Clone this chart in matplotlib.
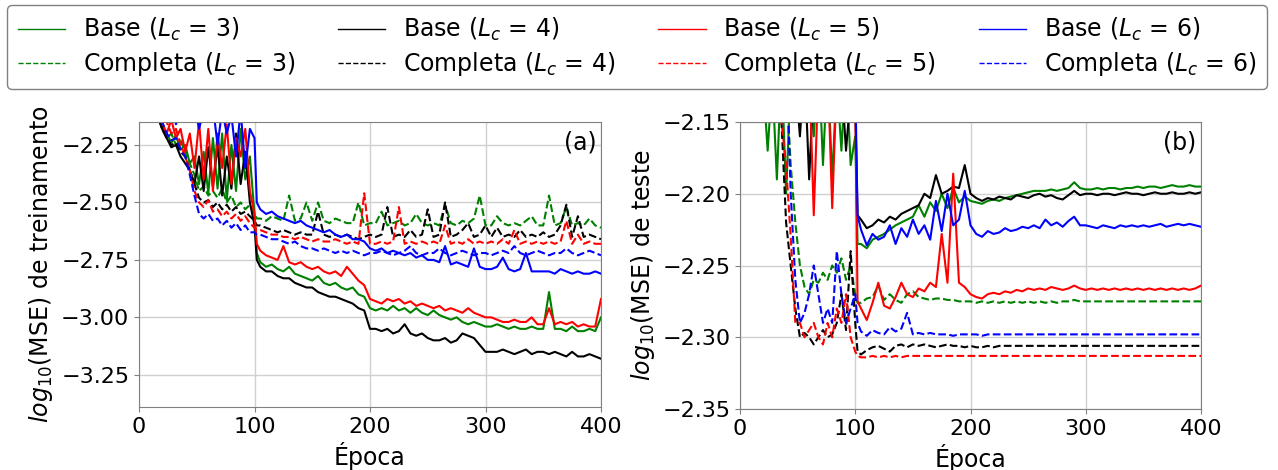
import matplotlib
matplotlib.use("Agg")
import matplotlib.pyplot as plt
from matplotlib.lines import Line2D

# ---------------- data ----------------
epochs = list(range(0, 101, 4)) + [102] + list(range(105, 401, 5))

labels_lc = ["3", "4", "5", "6"]
colors = ["green", "black", "red", "blue"]

# Panel (a): training log10(MSE)
a_base3 = [-2.00, -2.00, -2.00, -2.05, -2.10, -2.17, -2.20, -2.24, -2.21, -2.27, -2.25, -2.33, -2.30,
           -2.42, -2.28, -2.46, -2.22, -2.44, -2.20, -2.49, -2.25, -2.45, -2.18, -2.40, -2.30, -2.55, -2.72,
           -2.76, -2.78, -2.77, -2.79, -2.80, -2.78, -2.81, -2.82, -2.83, -2.84,
           -2.82, -2.85, -2.86, -2.85, -2.87, -2.88, -2.87, -2.90, -2.91, -2.96,
           -2.97, -2.96, -2.97, -2.95, -2.97, -2.96, -2.98, -2.96, -2.98, -2.99,
           -2.97, -2.99, -3.00, -3.01, -3.00, -3.02, -3.03, -3.02, -3.03, -3.04,
           -3.04, -3.03, -3.04, -3.05, -3.04, -3.05, -3.05, -3.04, -3.05, -3.05,
           -2.89, -3.05, -3.05, -3.06, -3.04, -3.06, -3.06, -3.05, -3.06, -3.00]
a_base4 = [-2.00, -2.00, -2.00, -2.05, -2.12, -2.18, -2.22, -2.26, -2.25, -2.30, -2.33, -2.36, -2.42,
           -2.30, -2.45, -2.26, -2.43, -2.25, -2.47, -2.30, -2.44, -2.20, -2.42, -2.28, -2.50, -2.60, -2.75,
           -2.78, -2.80, -2.80, -2.82, -2.83, -2.83, -2.85, -2.86, -2.87, -2.87,
           -2.89, -2.90, -2.91, -2.91, -2.92, -2.93, -2.94, -2.96, -2.97, -3.05,
           -3.05, -3.06, -3.05, -3.07, -3.06, -3.03, -3.07, -3.08, -3.07, -3.09,
           -3.10, -3.10, -3.09, -3.11, -3.10, -3.07, -3.08, -3.09, -3.12, -3.15,
           -3.15, -3.15, -3.14, -3.15, -3.16, -3.15, -3.14, -3.16, -3.15, -3.15,
           -3.16, -3.15, -3.16, -3.17, -3.15, -3.17, -3.17, -3.16, -3.17, -3.18]
a_base5 = [-2.00, -2.00, -2.00, -2.02, -2.08, -2.15, -2.20, -2.14, -2.22, -2.18, -2.28, -2.20, -2.35,
           -2.15, -2.40, -2.18, -2.45, -2.20, -2.35, -2.16, -2.42, -2.22, -2.30, -2.18, -2.45, -2.55, -2.68,
           -2.71, -2.73, -2.74, -2.75, -2.69, -2.76, -2.77, -2.76, -2.78, -2.79,
           -2.78, -2.80, -2.81, -2.80, -2.82, -2.78, -2.81, -2.84, -2.86, -2.92,
           -2.93, -2.94, -2.92, -2.93, -2.92, -2.94, -2.93, -2.95, -2.94, -2.95,
           -2.96, -2.95, -2.97, -2.96, -2.97, -2.98, -2.96, -2.98, -2.99, -3.00,
           -3.00, -3.01, -3.02, -3.02, -3.01, -3.02, -3.02, -3.00, -3.03, -3.03,
           -2.96, -3.03, -3.02, -3.03, -3.02, -3.04, -3.03, -3.04, -3.04, -2.92]
a_base6 = [-2.00, -2.00, -2.00, -2.00, -2.05, -2.10, -2.12, -2.08, -2.16, -2.10, -2.05, -2.12, -2.08,
           -2.18, -2.10, -2.14, -2.08, -2.25, -2.10, -2.20, -2.12, -2.30, -2.10, -2.35, -2.18, -2.22, -2.50,
           -2.53, -2.55, -2.54, -2.56, -2.57, -2.58, -2.59, -2.58, -2.60, -2.61,
           -2.62, -2.63, -2.62, -2.64, -2.65, -2.64, -2.66, -2.66, -2.67, -2.70,
           -2.71, -2.70, -2.72, -2.71, -2.72, -2.73, -2.72, -2.74, -2.73, -2.75,
           -2.75, -2.76, -2.69, -2.77, -2.76, -2.77, -2.78, -2.70, -2.78, -2.79,
           -2.79, -2.78, -2.74, -2.79, -2.80, -2.79, -2.72, -2.80, -2.80, -2.80,
           -2.80, -2.81, -2.79, -2.80, -2.81, -2.80, -2.81, -2.81, -2.80, -2.81]
a_comp3 = [-2.00, -2.00, -2.00, -2.05, -2.12, -2.17, -2.22, -2.20, -2.25, -2.23, -2.28, -2.33, -2.38,
           -2.45, -2.43, -2.47, -2.45, -2.48, -2.44, -2.50, -2.47, -2.52, -2.50, -2.53, -2.51, -2.55, -2.57,
           -2.57, -2.58, -2.56, -2.57, -2.58, -2.47, -2.58, -2.57, -2.50, -2.58,
           -2.50, -2.58, -2.59, -2.57, -2.58, -2.59, -2.59, -2.50, -2.60, -2.59,
           -2.59, -2.54, -2.60, -2.59, -2.58, -2.60, -2.59, -2.55, -2.59, -2.60,
           -2.59, -2.60, -2.51, -2.59, -2.60, -2.58, -2.59, -2.57, -2.47, -2.60,
           -2.60, -2.56, -2.59, -2.60, -2.59, -2.60, -2.58, -2.56, -2.60, -2.60,
           -2.47, -2.60, -2.59, -2.52, -2.60, -2.59, -2.60, -2.57, -2.60, -2.61]
a_comp4 = [-2.00, -2.00, -2.00, -2.05, -2.12, -2.18, -2.22, -2.25, -2.24, -2.28, -2.30, -2.36, -2.42,
           -2.48, -2.50, -2.49, -2.52, -2.50, -2.53, -2.51, -2.54, -2.52, -2.55, -2.54, -2.56, -2.58, -2.60,
           -2.60, -2.61, -2.62, -2.63, -2.62, -2.63, -2.64, -2.63, -2.64, -2.64,
           -2.54, -2.64, -2.65, -2.64, -2.65, -2.64, -2.65, -2.66, -2.65, -2.64,
           -2.65, -2.64, -2.52, -2.65, -2.64, -2.65, -2.62, -2.65, -2.64, -2.53,
           -2.65, -2.64, -2.50, -2.65, -2.64, -2.62, -2.59, -2.65, -2.64, -2.60,
           -2.65, -2.61, -2.65, -2.64, -2.65, -2.62, -2.65, -2.64, -2.65, -2.63,
           -2.65, -2.64, -2.60, -2.51, -2.65, -2.56, -2.65, -2.64, -2.65, -2.66]
a_comp5 = [-2.00, -2.00, -2.00, -2.03, -2.06, -2.10, -2.15, -2.20, -2.18, -2.25, -2.30, -2.36, -2.45,
           -2.50, -2.52, -2.49, -2.54, -2.53, -2.56, -2.54, -2.57, -2.55, -2.58, -2.56, -2.59, -2.61, -2.62,
           -2.62, -2.63, -2.64, -2.64, -2.65, -2.65, -2.66, -2.65, -2.66, -2.67,
           -2.66, -2.67, -2.67, -2.66, -2.67, -2.68, -2.67, -2.68, -2.46, -2.68,
           -2.68, -2.67, -2.68, -2.67, -2.52, -2.68, -2.67, -2.68, -2.67, -2.68,
           -2.67, -2.68, -2.60, -2.68, -2.67, -2.68, -2.66, -2.68, -2.67, -2.68,
           -2.67, -2.68, -2.66, -2.68, -2.62, -2.68, -2.67, -2.68, -2.67, -2.68,
           -2.67, -2.68, -2.67, -2.58, -2.68, -2.64, -2.68, -2.67, -2.68, -2.68]
a_comp6 = [-2.00, -2.00, -2.00, -2.05, -2.10, -2.15, -2.20, -2.23, -2.22, -2.27, -2.30, -2.38, -2.47,
           -2.55, -2.57, -2.55, -2.58, -2.57, -2.60, -2.58, -2.61, -2.59, -2.62, -2.60, -2.63, -2.63, -2.64,
           -2.64, -2.65, -2.66, -2.66, -2.67, -2.68, -2.67, -2.69, -2.70, -2.70,
           -2.71, -2.70, -2.71, -2.72, -2.71, -2.72, -2.71, -2.72, -2.73, -2.72,
           -2.72, -2.71, -2.72, -2.73, -2.72, -2.71, -2.69, -2.72, -2.73, -2.72,
           -2.72, -2.70, -2.72, -2.73, -2.72, -2.71, -2.72, -2.73, -2.72, -2.72,
           -2.73, -2.72, -2.71, -2.72, -2.69, -2.72, -2.73, -2.72, -2.71, -2.72,
           -2.73, -2.72, -2.72, -2.70, -2.72, -2.73, -2.72, -2.71, -2.72, -2.73]

# Panel (b): test log10(MSE)
b_base3 = [-2.10, -2.10, -2.10, -2.10, -2.10, -2.12, -2.17, -2.12, -2.19, -2.11, -2.20, -2.12, -2.14,
           -2.10, -2.12, -2.10, -2.16, -2.10, -2.18, -2.11, -2.19, -2.12, -2.17, -2.11, -2.18, -2.16, -2.235,
           -2.235, -2.238, -2.232, -2.230, -2.228, -2.225, -2.222, -2.220, -2.218, -2.216,
           -2.208, -2.216, -2.206, -2.212, -2.200, -2.210, -2.196, -2.206, -2.202, -2.205,
           -2.206, -2.207, -2.205, -2.204, -2.205, -2.203, -2.202, -2.201, -2.200, -2.199,
           -2.198, -2.198, -2.198, -2.197, -2.198, -2.197, -2.196, -2.192, -2.196, -2.197,
           -2.197, -2.196, -2.197, -2.196, -2.196, -2.197, -2.196, -2.196, -2.195, -2.196,
           -2.195, -2.195, -2.196, -2.195, -2.194, -2.195, -2.195, -2.194, -2.195, -2.195]
b_base4 = [-2.10, -2.10, -2.10, -2.10, -2.10, -2.10, -2.11, -2.12, -2.10, -2.13, -2.11, -2.15, -2.12,
           -2.16, -2.11, -2.19, -2.12, -2.14, -2.11, -2.13, -2.10, -2.15, -2.12, -2.17, -2.13, -2.14, -2.215,
           -2.218, -2.224, -2.222, -2.218, -2.220, -2.216, -2.218, -2.214, -2.212, -2.210,
           -2.208, -2.200, -2.203, -2.187, -2.200, -2.198, -2.195, -2.196, -2.180, -2.200,
           -2.203, -2.205, -2.203, -2.204, -2.202, -2.203, -2.204, -2.201, -2.202, -2.203,
           -2.201, -2.200, -2.202, -2.201, -2.203, -2.204, -2.201, -2.198, -2.201, -2.200,
           -2.200, -2.201, -2.200, -2.200, -2.201, -2.200, -2.199, -2.200, -2.200, -2.201,
           -2.200, -2.199, -2.200, -2.200, -2.199, -2.200, -2.200, -2.199, -2.200, -2.199]
b_base5 = [-2.10, -2.10, -2.10, -2.10, -2.10, -2.10, -2.12, -2.10, -2.11, -2.10, -2.12, -2.10, -2.11,
           -2.12, -2.10, -2.11, -2.215, -2.12, -2.14, -2.11, -2.21, -2.12, -2.13, -2.11, -2.12, -2.13, -2.275,
           -2.280, -2.288, -2.276, -2.262, -2.278, -2.280, -2.272, -2.262, -2.270, -2.272,
           -2.266, -2.268, -2.262, -2.265, -2.228, -2.262, -2.186, -2.262, -2.265, -2.270,
           -2.272, -2.273, -2.270, -2.269, -2.270, -2.268, -2.269, -2.267, -2.268, -2.266,
           -2.267, -2.266, -2.267, -2.265, -2.266, -2.267, -2.266, -2.264, -2.266, -2.267,
           -2.266, -2.267, -2.266, -2.267, -2.266, -2.267, -2.266, -2.267, -2.266, -2.267,
           -2.266, -2.267, -2.266, -2.267, -2.266, -2.267, -2.266, -2.267, -2.266, -2.264]
b_base6 = [-2.10, -2.10, -2.10, -2.10, -2.10, -2.10, -2.10, -2.10, -2.10, -2.10, -2.12, -2.10, -2.13,
           -2.11, -2.10, -2.12, -2.10, -2.11, -2.10, -2.12, -2.11, -2.10, -2.12, -2.11, -2.10, -2.12, -2.215,
           -2.225, -2.236, -2.228, -2.232, -2.230, -2.222, -2.235, -2.224, -2.230, -2.218,
           -2.228, -2.222, -2.232, -2.205, -2.226, -2.200, -2.222, -2.218, -2.198, -2.222,
           -2.228, -2.230, -2.226, -2.228, -2.227, -2.224, -2.226, -2.225, -2.223, -2.224,
           -2.222, -2.224, -2.218, -2.222, -2.220, -2.223, -2.219, -2.216, -2.222, -2.222,
           -2.223, -2.224, -2.222, -2.223, -2.224, -2.222, -2.223, -2.222, -2.223, -2.222,
           -2.223, -2.222, -2.221, -2.223, -2.222, -2.221, -2.222, -2.221, -2.222, -2.223]
b_comp3 = [-2.10, -2.10, -2.10, -2.10, -2.10, -2.10, -2.11, -2.10, -2.12, -2.10, -2.12, -2.18, -2.22,
           -2.25, -2.265, -2.27, -2.26, -2.262, -2.255, -2.26, -2.25, -2.255, -2.245, -2.26, -2.25, -2.27, -2.276,
           -2.276, -2.273, -2.272, -2.264, -2.274, -2.270, -2.274, -2.276, -2.270, -2.268,
           -2.272, -2.273, -2.274, -2.273, -2.273, -2.274, -2.274, -2.275, -2.275, -2.275,
           -2.276, -2.275, -2.276, -2.275, -2.276, -2.275, -2.276, -2.275, -2.276, -2.275,
           -2.276, -2.275, -2.276, -2.275, -2.276, -2.275, -2.275, -2.274, -2.275, -2.275,
           -2.275, -2.275, -2.275, -2.275, -2.275, -2.275, -2.275, -2.275, -2.275, -2.275,
           -2.275, -2.275, -2.275, -2.275, -2.275, -2.275, -2.275, -2.275, -2.275, -2.275]
b_comp4 = [-2.10, -2.10, -2.10, -2.10, -2.10, -2.10, -2.10, -2.11, -2.12, -2.15, -2.22, -2.25, -2.28,
           -2.30, -2.297, -2.30, -2.305, -2.30, -2.295, -2.30, -2.298, -2.29, -2.27, -2.295, -2.24, -2.29, -2.31,
           -2.312, -2.309, -2.307, -2.306, -2.308, -2.310, -2.306, -2.305, -2.307, -2.305,
           -2.306, -2.305, -2.306, -2.307, -2.306, -2.305, -2.306, -2.306, -2.307, -2.306,
           -2.307, -2.307, -2.306, -2.307, -2.306, -2.306, -2.306, -2.306, -2.306, -2.306,
           -2.306, -2.306, -2.306, -2.306, -2.306, -2.306, -2.306, -2.306, -2.306, -2.306,
           -2.306, -2.306, -2.306, -2.306, -2.306, -2.306, -2.306, -2.306, -2.306, -2.306,
           -2.306, -2.306, -2.306, -2.306, -2.306, -2.306, -2.306, -2.306, -2.306, -2.306]
b_comp5 = [-2.10, -2.10, -2.10, -2.10, -2.10, -2.10, -2.10, -2.10, -2.12, -2.15, -2.18, -2.23, -2.29,
           -2.29, -2.30, -2.295, -2.29, -2.30, -2.305, -2.29, -2.30, -2.28, -2.29, -2.27, -2.30, -2.31, -2.313,
           -2.314, -2.314, -2.313, -2.314, -2.313, -2.314, -2.313, -2.314, -2.313, -2.313,
           -2.313, -2.313, -2.313, -2.313, -2.313, -2.313, -2.313, -2.313, -2.313, -2.313,
           -2.313, -2.313, -2.313, -2.313, -2.313, -2.313, -2.313, -2.313, -2.313, -2.313,
           -2.313, -2.313, -2.313, -2.313, -2.313, -2.313, -2.313, -2.313, -2.313, -2.313,
           -2.313, -2.313, -2.313, -2.313, -2.313, -2.313, -2.313, -2.313, -2.313, -2.313,
           -2.313, -2.313, -2.313, -2.313, -2.313, -2.313, -2.313, -2.313, -2.313, -2.313]
b_comp6 = [-2.10, -2.10, -2.10, -2.10, -2.10, -2.10, -2.10, -2.10, -2.10, -2.10, -2.10, -2.20, -2.26,
           -2.29, -2.283, -2.27, -2.25, -2.27, -2.29, -2.28, -2.29, -2.24, -2.27, -2.29, -2.28, -2.27, -2.29,
           -2.296, -2.299, -2.295, -2.297, -2.298, -2.293, -2.296, -2.294, -2.283, -2.298,
           -2.297, -2.298, -2.297, -2.298, -2.298, -2.298, -2.299, -2.298, -2.298, -2.298,
           -2.298, -2.299, -2.298, -2.298, -2.298, -2.298, -2.298, -2.298, -2.298, -2.298,
           -2.298, -2.298, -2.298, -2.298, -2.298, -2.298, -2.298, -2.298, -2.298, -2.298,
           -2.298, -2.298, -2.298, -2.298, -2.298, -2.298, -2.298, -2.298, -2.298, -2.298,
           -2.298, -2.298, -2.298, -2.298, -2.298, -2.298, -2.298, -2.298, -2.298, -2.298]

panel_a_base = [a_base3, a_base4, a_base5, a_base6]
panel_a_comp = [a_comp3, a_comp4, a_comp5, a_comp6]
panel_b_base = [b_base3, b_base4, b_base5, b_base6]
panel_b_comp = [b_comp3, b_comp4, b_comp5, b_comp6]

x_ticks = [0, 100, 200, 300, 400]
a_yticks = [-3.25, -3.00, -2.75, -2.50, -2.25]
b_yticks = [-2.35, -2.30, -2.25, -2.20, -2.15]

# ---------------- figure ----------------
W, H = 1278, 470
fig = plt.figure(figsize=(W / 100, H / 100), dpi=100)

ax_a = fig.add_axes([139 / W, 1 - 407 / H, 462 / W, 285 / H])
ax_b = fig.add_axes([740 / W, 1 - 409 / H, 461 / W, 287 / H])

TICK_FS = 16
LABEL_FS = 17


def style(ax):
    for s in ax.spines.values():
        s.set_color("#808080")
    ax.tick_params(axis="both", labelsize=TICK_FS, color="#808080", length=3.5)
    ax.grid(True, color="#d0d0d0", linewidth=1.0)
    ax.set_axisbelow(True)


for ax, bases, comps in [(ax_a, panel_a_base, panel_a_comp), (ax_b, panel_b_base, panel_b_comp)]:
    for lc, col, yb, yc in zip(labels_lc, colors, bases, comps):
        ax.plot(epochs, yb, color=col, linestyle="-", linewidth=1.5)
        ax.plot(epochs, yc, color=col, linestyle="--", linewidth=1.5)
    ax.set_xlim(0, 400)
    ax.set_xticks(x_ticks)
    ax.set_xlabel("Época", fontsize=LABEL_FS)
    style(ax)

ax_a.set_ylim(-3.39, -2.15)
ax_a.set_yticks(a_yticks)
ax_a.set_ylabel(r"$log_{10}$(MSE) de treinamento", fontsize=LABEL_FS)
ax_a.text(0.99, 0.97, "(a)", transform=ax_a.transAxes, ha="right", va="top", fontsize=LABEL_FS)

ax_b.set_ylim(-2.35, -2.15)
ax_b.set_yticks(b_yticks)
ax_b.set_ylabel(r"$log_{10}$(MSE) de teste", fontsize=LABEL_FS)
ax_b.text(0.99, 0.97, "(b)", transform=ax_b.transAxes, ha="right", va="top", fontsize=LABEL_FS)

handles, labels = [], []
for lc, col in zip(labels_lc, colors):
    handles.append(Line2D([], [], color=col, linestyle="-", linewidth=1.0))
    labels.append(r"Base ($L_c$ = %s)" % lc)
    handles.append(Line2D([], [], color=col, linestyle="--", linewidth=1.0))
    labels.append(r"Completa ($L_c$ = %s)" % lc)

leg = fig.legend(handles, labels, ncol=4, loc="upper left", mode="expand",
                 bbox_to_anchor=(7 / W, 1 - 87 / H, 1260 / W, 82 / H), fontsize=LABEL_FS,
                 frameon=True, fancybox=True, edgecolor="#808080", framealpha=1.0,
                 handlelength=2.0, handletextpad=0.75, columnspacing=2.0,
                 labelspacing=0.3, borderpad=0.46, borderaxespad=0.0)
leg.get_frame().set_linewidth(1.0)

fig.savefig("out.png", dpi=100)
